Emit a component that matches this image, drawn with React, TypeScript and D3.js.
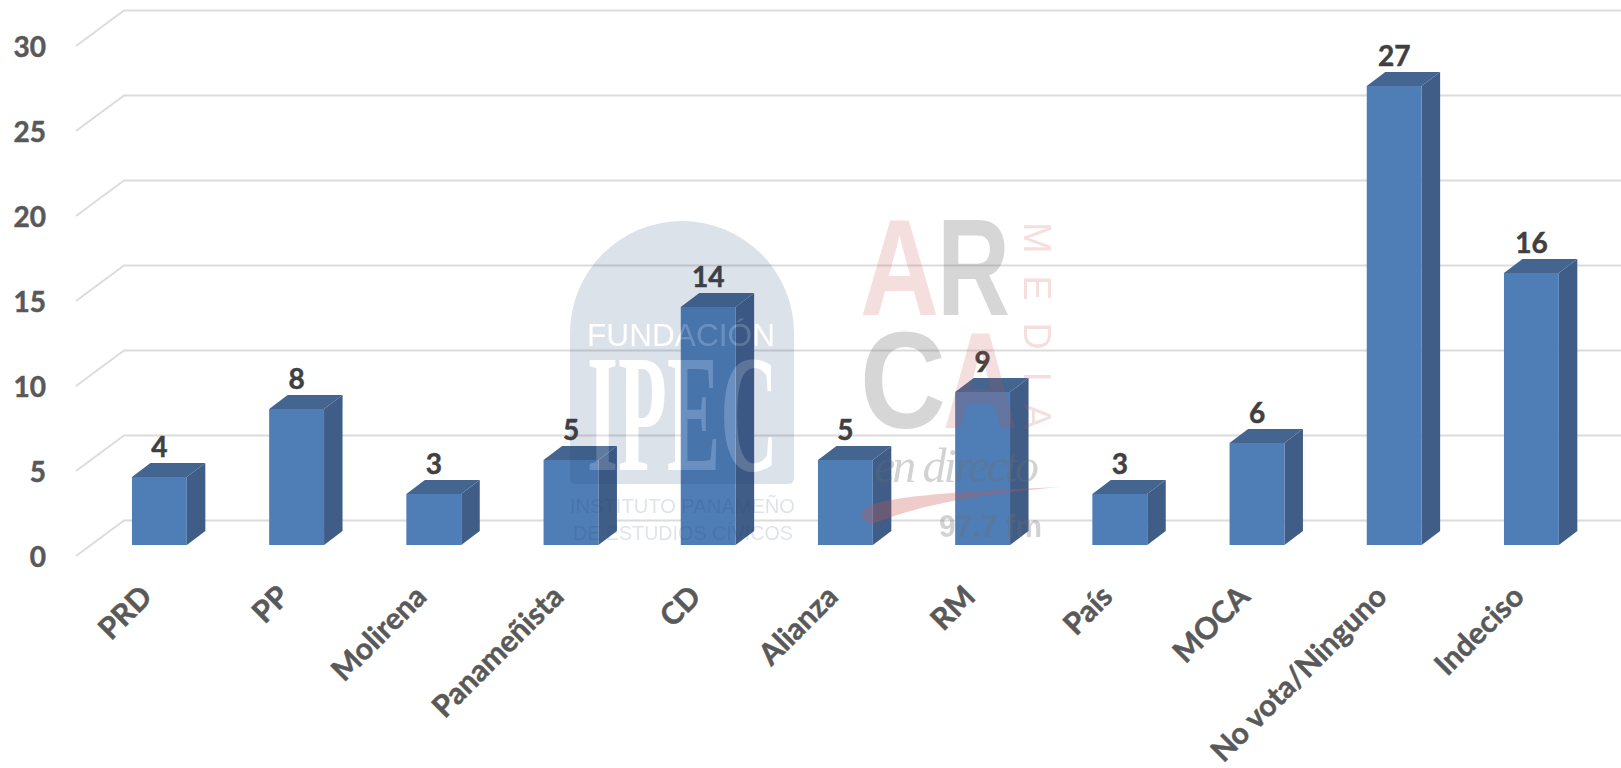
import { useEffect, useRef } from 'react';
import * as d3 from 'd3';

const categories = ['PRD', 'PP', 'Molirena', 'Panameñista', 'CD', 'Alianza', 'RM', 'País', 'MOCA', 'No vota/Ninguno', 'Indeciso'];
const values = [4, 8, 3, 5, 14, 5, 9, 3, 6, 27, 16];
const yTicks = [0, 5, 10, 15, 20, 25, 30];

const W = 1621;
const H = 768;
const FONT = 'Lato, Carlito, sans-serif';
// wall of the 3d chart sits up and to the right of the floor
const wallDx = 48;
const wallDy = -35.5;
const depthDx = 18.5;
const depthDy = -14;

const IPEC_COLOR = '#1f4273';
const PINK = '#c9524f';
const GREY = '#6e6e6e';

function Watermarks() {
    return (
        <g style={{ pointerEvents: 'none' }}>
            <mask id="archMask">
                <rect width={W} height={H} fill="white" />
                <text x={587} y={346} fontFamily="Liberation Sans" fontSize={31} textLength={188} lengthAdjust="spacingAndGlyphs" fill="black">FUNDACIÓN</text>
                <text x={587} y={470} fontFamily="Liberation Serif" fontWeight="bold" fontSize={167} textLength={191} lengthAdjust="spacingAndGlyphs" fill="black">IPEC</text>
            </mask>
            <path d="M570,478 V333 A112,112 0 0 1 794,333 V478 Q794,484 788,484 H576 Q570,484 570,478 Z" fill={IPEC_COLOR} opacity={0.15} mask="url(#archMask)" />
            <text x={587} y={346} fontFamily="Liberation Sans" fontSize={31} textLength={188} lengthAdjust="spacingAndGlyphs" fill="white" opacity={0.15}>FUNDACIÓN</text>
            <text x={587} y={470} fontFamily="Liberation Serif" fontWeight="bold" fontSize={167} textLength={191} lengthAdjust="spacingAndGlyphs" fill="white" opacity={0.15}>IPEC</text>
            <g fontFamily="Liberation Sans" fontSize={21} fill={IPEC_COLOR} opacity={0.14}>
                <text x={570} y={513} textLength={225} lengthAdjust="spacingAndGlyphs">INSTITUTO PANAMEÑO</text>
                <text x={573} y={540} textLength={220} lengthAdjust="spacingAndGlyphs">DE ESTUDIOS CÍVICOS</text>
            </g>
            <g fontFamily="Liberation Sans" fontWeight="bold">
                <text x={860} y={315} fontSize={137} textLength={79} lengthAdjust="spacingAndGlyphs" fill={PINK} opacity={0.18}>A</text>
                <text x={937} y={315} fontSize={137} textLength={73} lengthAdjust="spacingAndGlyphs" fill={GREY} opacity={0.28}>R</text>
                <text x={860} y={428} fontSize={137} textLength={86} lengthAdjust="spacingAndGlyphs" fill={GREY} opacity={0.28}>C</text>
                <text x={943} y={428} fontSize={137} textLength={75} lengthAdjust="spacingAndGlyphs" fill={PINK} opacity={0.18}>A</text>
            </g>
            <text transform="translate(1024,222) rotate(90)" fontFamily="Liberation Sans" fontSize={38} textLength={207} fill={PINK} opacity={0.18}>MEDIA</text>
            <text x={874} y={482} fontFamily="Liberation Serif" fontStyle="italic" fontSize={48} textLength={165} fill={GREY} opacity={0.3}>en directo</text>
            <path d="M863,511 C868,498 940,492 1060,487 C980,494 920,505 878,522 C868,526 860,520 863,511 Z" fill={PINK} opacity={0.3} />
            <text x={939} y={537} fontFamily="Liberation Sans" fontWeight="bold" fontSize={32} textLength={103} lengthAdjust="spacingAndGlyphs" fill={GREY} opacity={0.3}>97.7 fm</text>
        </g>
    );
}

export default function App() {
    const ref = useRef<SVGGElement>(null);

    useEffect(() => {
        const g = d3.select(ref.current);
        g.selectAll('*').remove();

        const x = d3.scaleBand<string>().domain(categories).range([90.8, 1600]).paddingInner(0.6).paddingOuter(0.3);
        const y = d3.scaleLinear().domain([0, 30]).range([545, 35]);
        const front = 11; // front edge of the floor sits below the bar base

        // gridlines: slanted piece on the side wall, then flat along the back
        const gridLine = d3.line<[number, number]>();
        g.append('g')
            .selectAll('path')
            .data(yTicks)
            .join('path')
            .attr('fill', 'none')
            .attr('stroke', '#dcdcdc')
            .attr('stroke-width', 2)
            .attr('d', d => gridLine([
                [76, y(d) + front],
                [76 + wallDx, y(d) + front + wallDy],
                [W, y(d) + front + wallDy],
            ]));

        const yAxis = g.append('g')
            .attr('transform', `translate(46,${front + 1.5})`)
            .call(d3.axisLeft(y).tickValues(yTicks).tickSize(0).tickPadding(0));
        yAxis.select('.domain').remove();
        yAxis.selectAll('text')
            .attr('font-family', FONT)
            .attr('font-weight', 700)
            .attr('font-size', 28)
            .attr('fill', '#595959')
            .attr('stroke', '#595959')
            .attr('stroke-width', 0.5);

        const xAxis = g.append('g')
            .attr('transform', 'translate(0,572)')
            .call(d3.axisBottom(x).tickSize(0).tickPadding(0));
        xAxis.select('.domain').remove();
        xAxis.selectAll('text')
            .attr('font-family', FONT)
            .attr('font-weight', 700)
            .attr('font-size', 30)
            .attr('fill', '#595959')
            .attr('stroke', '#595959')
            .attr('stroke-width', 0.5)
            .attr('text-anchor', 'end')
            .attr('dy', '0.35em')
            .attr('transform', 'translate(-13,19) rotate(-45)');

        const bars = g.append('g')
            .selectAll('g')
            .data(categories)
            .join('g');
        const x0 = (_: string) => x(_) as number;
        const v = (i: number) => values[i];

        // side face
        bars.append('path')
            .attr('fill', '#3f5d86')
            .attr('d', (d, i) => {
                const r = x0(d) + x.bandwidth();
                return `M${r},${y(0)}L${r + depthDx},${y(0) + depthDy}L${r + depthDx},${y(v(i)) + depthDy}L${r},${y(v(i))}Z`;
            });
        // top face
        bars.append('path')
            .attr('fill', '#43658f')
            .attr('d', (d, i) => {
                const l = x0(d);
                const r = l + x.bandwidth();
                const t = y(v(i));
                return `M${l},${t}L${l + depthDx},${t + depthDy}L${r + depthDx},${t + depthDy}L${r},${t}Z`;
            });
        // front face
        bars.append('rect')
            .attr('fill', '#4f7db5')
            .attr('x', d => x0(d))
            .attr('y', (_, i) => y(v(i)))
            .attr('width', x.bandwidth())
            .attr('height', (_, i) => y(0) - y(v(i)));
        bars.append('text')
            .attr('x', d => x0(d) + x.bandwidth() / 2)
            .attr('y', (_, i) => y(v(i)) - 20)
            .attr('text-anchor', 'middle')
            .attr('font-family', FONT)
            .attr('font-weight', 700)
            .attr('font-size', 28)
            .attr('fill', '#404040')
            .attr('stroke', '#404040')
            .attr('stroke-width', 0.5)
            .text((_, i) => v(i));
    }, []);

    return (
        <svg width={W} height={H} style={{ position: 'absolute', left: 0, top: 0, display: 'block', background: '#fff' }}>
            <g ref={ref} />
            <Watermarks />
        </svg>
    );
}
